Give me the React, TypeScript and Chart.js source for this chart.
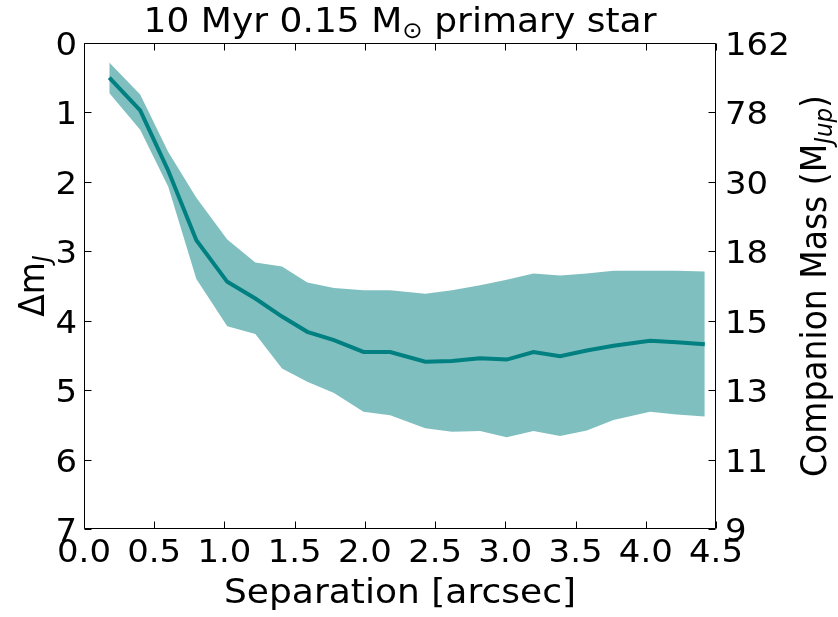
import React, { useEffect, useRef } from "react";
import { Chart, registerables } from "chart.js";

Chart.register(...registerables);

// Separation [arcsec]
const separation = [0.18, 0.40, 0.60, 0.80, 1.02, 1.22, 1.41, 1.59, 1.78, 1.99, 2.18, 2.43, 2.62, 2.82, 3.01, 3.20, 3.39, 3.58, 3.77, 4.03, 4.22, 4.42];
// Median contrast curve (Δm_J)
const medianContrast = [0.50, 0.97, 1.84, 2.84, 3.44, 3.68, 3.94, 4.16, 4.28, 4.45, 4.45, 4.59, 4.58, 4.54, 4.56, 4.45, 4.51, 4.43, 4.36, 4.29, 4.31, 4.34];
// Band edges
const bandUpper = [0.28, 0.74, 1.57, 2.23, 2.83, 3.16, 3.22, 3.45, 3.53, 3.56, 3.56, 3.61, 3.56, 3.49, 3.41, 3.32, 3.35, 3.32, 3.28, 3.28, 3.28, 3.29];
const bandLower = [0.72, 1.25, 2.07, 3.40, 4.08, 4.19, 4.69, 4.88, 5.04, 5.31, 5.36, 5.55, 5.60, 5.59, 5.68, 5.59, 5.66, 5.58, 5.43, 5.31, 5.35, 5.38];
// Right axis tick labels (companion mass in M_Jup) at Δm = 0..7
const massTickLabels = ["162", "78", "30", "18", "15", "13", "11", "9"];

const FONT = '"DejaVu Sans", sans-serif';
const SX = 1.06; // horizontal stretch of the reference's text

type Seg = { t: string; size: number; italic?: boolean; dy?: number };

function drawRich(
  ctx: CanvasRenderingContext2D,
  segs: Seg[],
  x: number,
  y: number,
  rot: number,
  align: "center" | "left" | "right" = "center"
) {
  ctx.save();
  ctx.translate(x, y);
  ctx.rotate(rot);
  if (rot === 0) ctx.scale(SX, 1);
  else ctx.scale(1, SX);
  ctx.textAlign = "left";
  ctx.textBaseline = "alphabetic";
  ctx.fillStyle = "#000";
  const widths = segs.map((s) => {
    ctx.font = `${s.italic ? "italic " : ""}${s.size}px ${FONT}`;
    return ctx.measureText(s.t).width;
  });
  const total = widths.reduce((a, b) => a + b, 0);
  let cx = align === "center" ? -total / 2 : align === "right" ? -total : 0;
  segs.forEach((s, i) => {
    ctx.font = `${s.italic ? "italic " : ""}${s.size}px ${FONT}`;
    ctx.fillText(s.t, cx, s.dy || 0);
    cx += widths[i];
  });
  ctx.restore();
}

const framePlugin = {
  id: "frameAndTitles",
  afterDraw(chart: any) {
    const { ctx, chartArea: a, scales } = chart;
    ctx.save();
    ctx.strokeStyle = "#000";
    ctx.lineWidth = 1;
    const L = Math.round(a.left) + 0.5;
    const R = Math.round(a.right) - 0.5;
    const T = Math.round(a.top) + 0.5;
    const B = Math.round(a.bottom) - 0.5;
    ctx.beginPath();
    ctx.rect(L, T, R - L, B - T);
    const tl = 7;
    scales.x.ticks.forEach((t: any) => {
      const px = Math.round(scales.x.getPixelForValue(t.value)) + 0.5;
      ctx.moveTo(px, B);
      ctx.lineTo(px, B - tl);
      ctx.moveTo(px, T);
      ctx.lineTo(px, T + tl);
    });
    scales.y.ticks.forEach((t: any) => {
      const py = Math.round(scales.y.getPixelForValue(t.value)) + 0.5;
      ctx.moveTo(L, py);
      ctx.lineTo(L + tl, py);
      ctx.moveTo(R, py);
      ctx.lineTo(R - tl, py);
    });
    ctx.stroke();
    ctx.restore();

    const TS = 32;
    // Tick labels
    scales.x.ticks.forEach((t: any) => {
      const px = scales.x.getPixelForValue(t.value);
      drawRich(ctx, [{ t: Number(t.value).toFixed(1), size: TS }], px, 562, 0);
    });
    scales.y.ticks.forEach((t: any) => {
      const py = scales.y.getPixelForValue(t.value);
      drawRich(ctx, [{ t: String(t.value), size: TS }], a.left - 7, py + 12, 0, "right");
    });
    scales.y2.ticks.forEach((t: any) => {
      const py = scales.y2.getPixelForValue(t.value);
      const lbl = massTickLabels[Math.round(Number(t.value))] ?? "";
      drawRich(ctx, [{ t: lbl, size: TS }], a.right + 9, py + 12, 0, "left");
    });

    const cxp = (a.left + a.right) / 2;
    const cyp = (a.top + a.bottom) / 2;
    // Title
    drawRich(
      ctx,
      [
        { t: "10 Myr 0.15 M", size: 34 },
        { t: "\u2299", size: 23, dy: 6 },
        { t: " primary star", size: 34 },
      ],
      cxp,
      32,
      0
    );
    // X title
    drawRich(ctx, [{ t: "Separation [arcsec]", size: 34 }], cxp, 603, 0);
    // Left Y title
    drawRich(
      ctx,
      [
        { t: "\u0394m", size: 33 },
        { t: "J", size: 23, italic: true, dy: 6 },
      ],
      44,
      cyp,
      -Math.PI / 2
    );
    // Right Y title
    drawRich(
      ctx,
      [
        { t: "Companion Mass (M", size: 33 },
        { t: "Jup", size: 23, italic: true, dy: 6 },
        { t: ")", size: 33 },
      ],
      826,
      cyp,
      -Math.PI / 2
    );
  },
};

export default function App() {
  const ref = useRef<HTMLCanvasElement | null>(null);

  useEffect(() => {
    document.body.style.margin = "0";
    const canvas = ref.current;
    if (!canvas) return;
    const pts = (ys: number[]) => separation.map((x, i) => ({ x, y: ys[i] }));
    const chart = new Chart(canvas, {
      type: "line",
      data: {
        datasets: [
          {
            label: "median",
            data: pts(medianContrast),
            borderColor: "#008080",
            borderWidth: 4,
            pointRadius: 0,
            fill: false,
            order: 0,
          },
          {
            label: "upper",
            data: pts(bandUpper),
            borderColor: "transparent",
            borderWidth: 0,
            pointRadius: 0,
            backgroundColor: "rgba(0,128,128,0.5)",
            fill: "+1",
            order: 1,
          },
          {
            label: "lower",
            data: pts(bandLower),
            borderColor: "transparent",
            borderWidth: 0,
            pointRadius: 0,
            fill: false,
            order: 2,
          },
        ],
      },
      options: {
        animation: false,
        responsive: false,
        maintainAspectRatio: false,
        layout: { padding: { top: 43, left: 0, right: 0, bottom: 0 } },
        plugins: {
          legend: { display: false },
          tooltip: { enabled: false },
          title: { display: false },
        },
        scales: {
          x: {
            type: "linear",
            position: "bottom",
            min: 0,
            max: 4.5,
            grid: { display: false, drawTicks: false },
            border: { display: false },
            ticks: { display: false, stepSize: 0.5, autoSkip: false },
            afterFit: (s: any) => {
              s.height = 88;
            },
          },
          y: {
            type: "linear",
            position: "left",
            reverse: true,
            min: 0,
            max: 7,
            grid: { display: false, drawTicks: false },
            border: { display: false },
            ticks: { display: false, stepSize: 1, autoSkip: false },
            afterFit: (s: any) => {
              s.width = 84;
            },
          },
          y2: {
            type: "linear",
            position: "right",
            reverse: true,
            min: 0,
            max: 7,
            grid: { display: false, drawTicks: false },
            border: { display: false },
            ticks: { display: false, stepSize: 1, autoSkip: false },
            afterFit: (s: any) => {
              s.width = 122;
            },
          },
        },
      },
      plugins: [framePlugin],
    } as any);
    return () => chart.destroy();
  }, []);

  return <canvas ref={ref} width={838} height={617} style={{ display: "block" }} />;
}
